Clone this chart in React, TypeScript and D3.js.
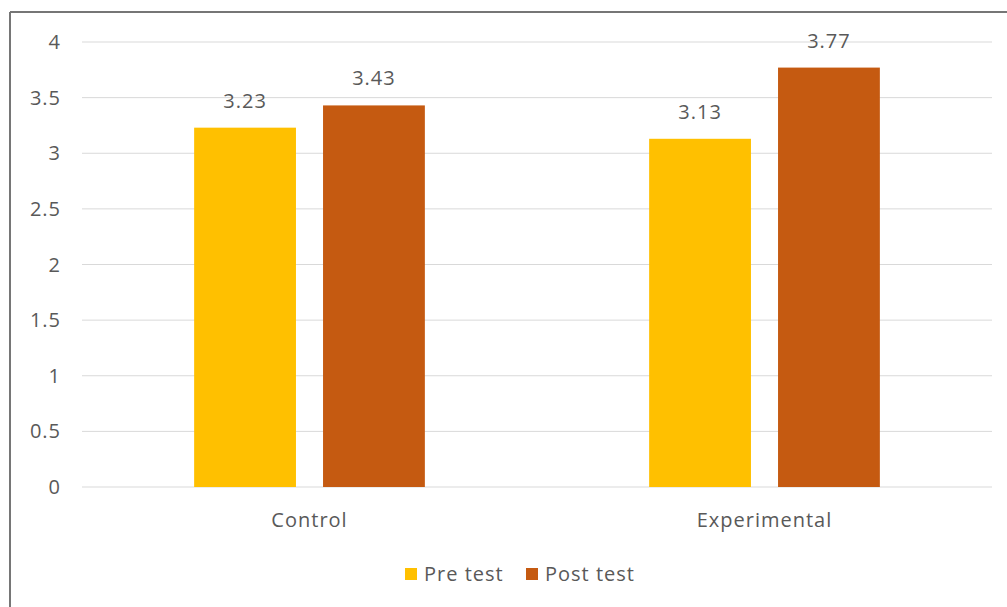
import React from "react";
import * as d3 from "d3";

const categories = ["Control", "Experimental"];
const seriesNames = ["Pre test", "Post test"];
const preTest = [3.23, 3.13];
const postTest = [3.43, 3.77];
const yTicks = [0, 0.5, 1, 1.5, 2, 2.5, 3, 3.5, 4];
const colors = ["#FFC000", "#C55A11"];

const W = 1007;
const H = 607;
const plot = { left: 82, right: 992, top: 42, bottom: 487 };
const font = "'Open Sans', 'Liberation Sans', sans-serif";
const textColor = "#595959";
const fs = 20;
const ls = 1;

export default function App() {
  const x = d3
    .scaleBand<string>()
    .domain(categories)
    .range([plot.left, plot.right])
    .paddingInner(0)
    .paddingOuter(0);
  const y = d3.scaleLinear().domain([0, 4]).range([plot.bottom, plot.top]);
  const inner = d3
    .scaleBand<string>()
    .domain(seriesNames)
    .range([0, x.bandwidth()])
    .paddingInner(0.21)
    .paddingOuter(0.87);

  const series = [preTest, postTest];

  return (
    <svg
      width={W}
      height={H}
      style={{ position: "absolute", left: 0, top: 0, background: "#fff" }}
      fontFamily={font}
      letterSpacing={ls}
    >
      <rect x={0} y={0} width={W} height={H} fill="#fff" />
      {/* chart frame */}
      <line x1={10} y1={12} x2={W} y2={12} stroke="#767676" strokeWidth={2} />
      <line x1={10} y1={12} x2={10} y2={H} stroke="#767676" strokeWidth={2} />

      {/* gridlines and y tick labels */}
      {yTicks.map((t) => (
        <g key={t}>
          <line
            x1={plot.left}
            x2={plot.right}
            y1={y(t)}
            y2={y(t)}
            stroke="#D9D9D9"
            strokeWidth={1}
          />
          <text
            x={61}
            y={y(t)}
            dy="0.35em"
            textAnchor="end"
            fontSize={fs}
            fill={textColor}
          >
            {t}
          </text>
        </g>
      ))}

      {/* bars with value labels */}
      {categories.map((c, ci) =>
        seriesNames.map((s, si) => {
          const v = series[si][ci];
          const bx = (x(c) ?? 0) + (inner(s) ?? 0);
          const bw = inner.bandwidth();
          return (
            <g key={c + s}>
              <rect
                x={bx}
                y={y(v)}
                width={bw}
                height={y(0) - y(v)}
                fill={colors[si]}
              />
              <text
                x={bx + bw / 2}
                y={y(v) - 27}
                dy="0.35em"
                textAnchor="middle"
                fontSize={fs}
                fill={textColor}
              >
                {v.toFixed(2)}
              </text>
            </g>
          );
        })
      )}

      {/* category labels */}
      {categories.map((c) => (
        <text
          key={c}
          x={(x(c) ?? 0) + x.bandwidth() / 2}
          y={520}
          dy="0.35em"
          textAnchor="middle"
          fontSize={fs}
          fill={textColor}
        >
          {c}
        </text>
      ))}

      {/* legend */}
      {seriesNames.map((s, i) => {
        const lx = [405, 526][i];
        return (
          <g key={s}>
            <rect x={lx} y={568} width={12} height={12} fill={colors[i]} />
            <text
              x={lx + 19}
              y={574}
              dy="0.35em"
              fontSize={fs}
              fill={textColor}
            >
              {s}
            </text>
          </g>
        );
      })}
    </svg>
  );
}
